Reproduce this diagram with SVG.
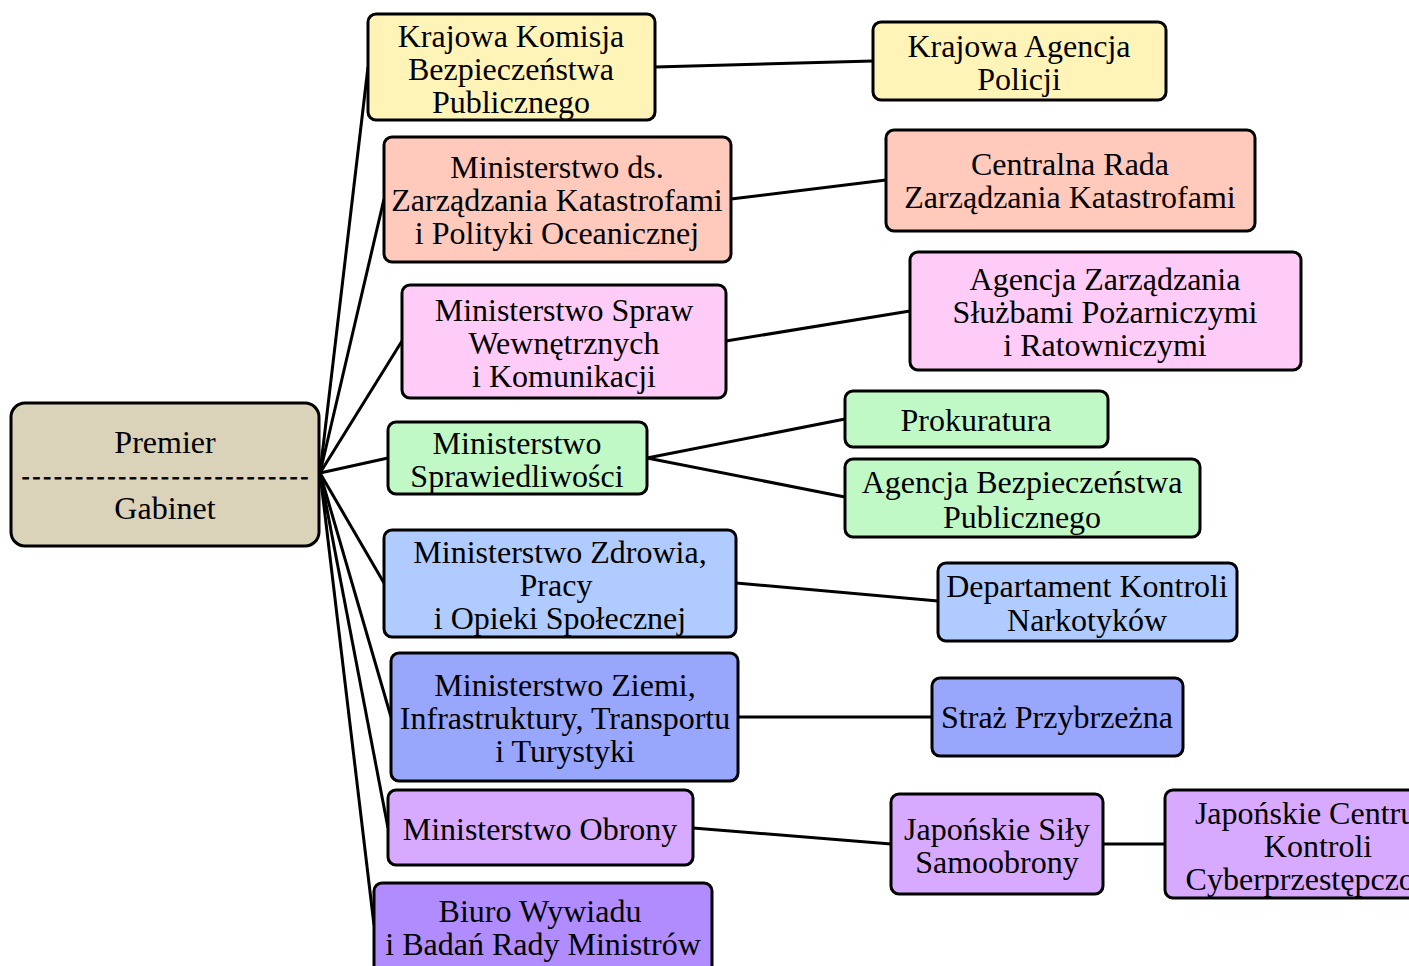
<svg xmlns="http://www.w3.org/2000/svg" width="1409" height="966" viewBox="0 0 1409 966" font-family="'Liberation Serif', 'Times New Roman', Times, serif">
<style>
.n rect{stroke:#000;stroke-width:3}
.n text{font-family:'Liberation Serif','Times New Roman',Times,serif;font-size:32px;text-anchor:middle;fill:#000}
.n text.d{font-size:22px;stroke:#000;stroke-width:0.9}
.c line{stroke:#000;stroke-width:3}
</style>
<rect width="1409" height="966" fill="#fff"/>
<g class="c">
<line x1="320" y1="473" x2="368" y2="67"/>
<line x1="320" y1="473" x2="384" y2="199"/>
<line x1="320" y1="473" x2="402" y2="341"/>
<line x1="320" y1="473" x2="388" y2="458"/>
<line x1="320" y1="473" x2="384" y2="583"/>
<line x1="320" y1="473" x2="391" y2="717"/>
<line x1="320" y1="473" x2="388" y2="828"/>
<line x1="320" y1="473" x2="374" y2="925"/>
<line x1="655" y1="67" x2="873" y2="61"/>
<line x1="731" y1="199" x2="886" y2="180"/>
<line x1="726" y1="341" x2="910" y2="311"/>
<line x1="647" y1="458" x2="845" y2="419"/>
<line x1="647" y1="458" x2="845" y2="497"/>
<line x1="736" y1="583" x2="938" y2="601"/>
<line x1="738" y1="717" x2="932" y2="717"/>
<line x1="693" y1="828" x2="891" y2="844"/>
<line x1="1103" y1="844" x2="1165" y2="844"/>
</g>
<g id="premier" class="n"><rect x="11" y="403" width="308" height="143" rx="14" fill="#dbd2ba"/>
<text x="165" y="453">Premier</text><text class="d" x="165" y="483" textLength="286" lengthAdjust="spacing">---------------------------</text><text x="165" y="519">Gabinet</text></g>
<g id="kkbp" class="n"><rect x="368" y="14" width="287" height="106" rx="8" fill="#fff4b8"/>
<text x="511" y="47">Krajowa Komisja</text><text x="511" y="80">Bezpieczeństwa</text><text x="511" y="113">Publicznego</text></g>
<g id="kap" class="n"><rect x="873" y="22" width="293" height="78" rx="8" fill="#fff4b8"/>
<text x="1019" y="57">Krajowa Agencja</text><text x="1019" y="90">Policji</text></g>
<g id="mzk" class="n"><rect x="384" y="137" width="347" height="125" rx="8" fill="#ffc9bc"/>
<text x="557" y="178">Ministerstwo ds.</text><text x="557" y="211">Zarządzania Katastrofami</text><text x="557" y="244">i Polityki Oceanicznej</text></g>
<g id="crzk" class="n"><rect x="886" y="130" width="369" height="101" rx="8" fill="#ffc9bc"/>
<text x="1070" y="175">Centralna Rada</text><text x="1070" y="208">Zarządzania Katastrofami</text></g>
<g id="msw" class="n"><rect x="402" y="285" width="324" height="113" rx="8" fill="#ffccf8"/>
<text x="564" y="321">Ministerstwo Spraw</text><text x="564" y="354">Wewnętrznych</text><text x="564" y="387">i Komunikacji</text></g>
<g id="azsp" class="n"><rect x="910" y="252" width="391" height="118" rx="8" fill="#ffccf8"/>
<text x="1105" y="290">Agencja Zarządzania</text><text x="1105" y="323">Służbami Pożarniczymi</text><text x="1105" y="356">i Ratowniczymi</text></g>
<g id="ms" class="n"><rect x="388" y="422" width="259" height="72" rx="8" fill="#c0f8c6"/>
<text x="517" y="454">Ministerstwo</text><text x="517" y="487">Sprawiedliwości</text></g>
<g id="prok" class="n"><rect x="845" y="391" width="263" height="56" rx="8" fill="#c0f8c6"/>
<text x="976" y="431">Prokuratura</text></g>
<g id="abp" class="n"><rect x="845" y="459" width="355" height="78" rx="8" fill="#c0f8c6"/>
<text x="1022" y="493">Agencja Bezpieczeństwa</text><text x="1022" y="528">Publicznego</text></g>
<g id="mzd" class="n"><rect x="384" y="530" width="352" height="107" rx="8" fill="#b0cbff"/>
<text x="560" y="563">Ministerstwo Zdrowia,</text><text x="556" y="596">Pracy</text><text x="560" y="629">i Opieki Społecznej</text></g>
<g id="dkn" class="n"><rect x="938" y="563" width="299" height="78" rx="8" fill="#b0cbff"/>
<text x="1087" y="597">Departament Kontroli</text><text x="1087" y="631">Narkotyków</text></g>
<g id="mzi" class="n"><rect x="391" y="653" width="347" height="128" rx="8" fill="#98a6fc"/>
<text x="565" y="696">Ministerstwo Ziemi,</text><text x="565" y="729">Infrastruktury, Transportu</text><text x="565" y="762">i Turystyki</text></g>
<g id="sp" class="n"><rect x="932" y="678" width="251" height="78" rx="8" fill="#98a6fc"/>
<text x="1057" y="728">Straż Przybrzeżna</text></g>
<g id="mo" class="n"><rect x="388" y="790" width="305" height="75" rx="8" fill="#d8aaff"/>
<text x="540" y="840">Ministerstwo Obrony</text></g>
<g id="jss" class="n"><rect x="891" y="794" width="212" height="100" rx="8" fill="#d8aaff"/>
<text x="997" y="840">Japońskie Siły</text><text x="997" y="873">Samoobrony</text></g>
<g id="jck" class="n"><rect x="1165" y="790" width="270" height="108" rx="8" fill="#d8aaff"/>
<text x="1318" y="824">Japońskie Centrum</text><text x="1318" y="857">Kontroli</text><text x="1318" y="890">Cyberprzestępczości</text></g>
<g id="biuro" class="n"><rect x="374" y="883" width="338" height="95" rx="8" fill="#b08cff"/>
<text x="540" y="922">Biuro Wywiadu</text><text x="543" y="955">i Badań Rady Ministrów</text></g>
</svg>
